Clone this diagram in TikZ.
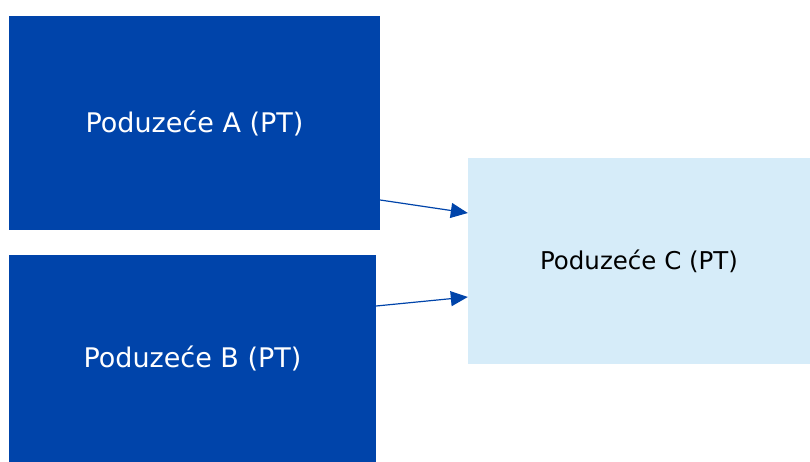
\documentclass[tikz,border=0pt]{standalone}
\usepackage{fontspec}
\setmainfont{DejaVu Sans}
\usetikzlibrary{arrows.meta}
\definecolor{firmblue}{RGB}{0,68,170}
\definecolor{firmlight}{RGB}{214,236,249}
\begin{document}
\begin{tikzpicture}[x=1pt, y=-1pt, firm/.style={fill = firmblue, text = white, minimum width = 371pt, minimum height = 214pt, inner sep = 0pt, font = \fontsize{27}{32}\selectfont}, target/.style={fill = firmlight, text = black, minimum width = 342pt, minimum height = 206pt, inner sep = 0pt, font = \fontsize{24.5}{29}\selectfont}, link/.style={draw = firmblue, line width = 1.2pt, -{Triangle[length=17pt, width=15pt]}}]
\useasboundingbox (0,0) rectangle (810,462);
\node[firm] (A) at (194.5,123) {Poduzeće A (PT)};
\node[firm, minimum width = 367pt, minimum height = 207pt] (B) at (192.5,358.5) {Poduzeće B (PT)};
\node[target] (C) at (639,261) {Poduzeće C (PT)};
\draw[link] ([yshift=-77pt]A.east) -- ([yshift=48pt]C.west);
\draw[link] ([yshift=52.5pt]B.east) -- ([yshift=-36pt]C.west);
\end{tikzpicture}
\end{document}
